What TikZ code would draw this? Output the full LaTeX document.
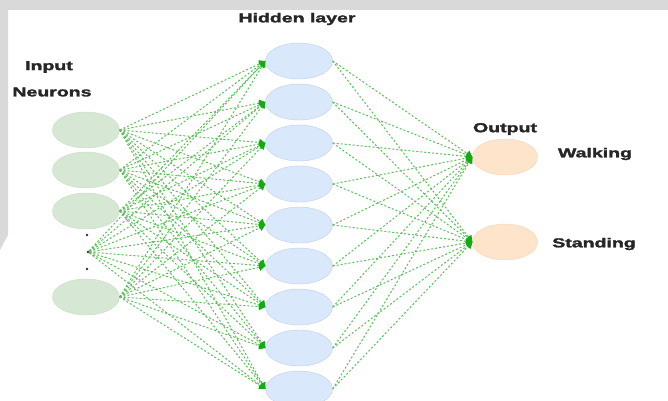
\documentclass[tikz,border=0pt]{standalone}
\usepackage{fontspec}
\setmainfont{Liberation Sans}[BoldFeatures={FakeBold=1.6}]
\usetikzlibrary{
  arrows.meta,
  shapes.geometric,
}

\definecolor{inFill}{RGB}{214,232,212}
\definecolor{inDraw}{RGB}{196,220,194}
\definecolor{hidFill}{RGB}{218,232,252}
\definecolor{hidDraw}{RGB}{190,206,232}
\definecolor{outFill}{RGB}{255,228,204}
\definecolor{outDraw}{RGB}{244,212,180}
\definecolor{lineGreen}{RGB}{90,190,90}
\definecolor{tipGreen}{RGB}{20,170,20}
\definecolor{bgGray}{RGB}{217,217,217}

\newcommand{\wtxt}[1]{\scalebox{1.5}[1]{#1}}

\begin{document}
\begin{tikzpicture}[
    x=1pt, y=-1pt,
    arr/.style={lineGreen, line width=1pt, dash pattern=on 2pt off 2pt,
        -{Triangle[length=6pt, width=7pt, color=tipGreen]}},
    lab/.style={font=\bfseries\fontsize{13}{15}\selectfont, black!85, inner sep=0pt},
    inNeu/.style={fill=inFill, draw=inDraw, ellipse, minimum width=67pt, minimum height=36pt},
    hidNeu/.style={fill=hidFill, draw=hidDraw, ellipse, minimum width=67pt, minimum height=36pt},
    outNeu/.style={fill=outFill, draw=outDraw, ellipse, minimum width=65pt, minimum height=36pt},
    dot/.style={circle, fill=black!80, inner sep=0pt, minimum size=2.8pt},
  ]
  \useasboundingbox (0,0) rectangle (668,400);
  \fill[white] (0,0) rectangle (668,400);
  \fill[bgGray] (0,0) rectangle (668,10);
  \fill[bgGray] (0,10) -- (8,10) -- (8,235) -- (0,250) -- cycle;

  % input layer
  \node[inNeu] (in0) at (86,130) {};
  \node[inNeu] (in1) at (86,170) {};
  \node[inNeu] (in2) at (86,211) {};
  \node[inNeu] (in3) at (86,297) {};
  \node[dot] (d0) at (87,235) {};
  \node[dot] (d1) at (88,252) {};
  \node[dot] (d2) at (87,269) {};

  % hidden layer
  \foreach \j in {0,...,8} {
      \node[hidNeu] (h\j) at (299,61+41*\j) {};
    }

  % output layer
  \node[outNeu] (out0) at (505,157) {};
  \node[outNeu] (out1) at (505,242) {};

  \foreach \j in {0,...,8} {
      \foreach \i in {0,...,3} {
          \draw[arr] (in\i.east) -- (h\j.west);
        }
      \draw[arr] (d1) -- (h\j.west);
      \foreach \k in {0,1} {
          \draw[arr] (h\j.east) -- (out\k.west);
        }
    }

  \node[lab] (hidLab) at (297,19) {\wtxt{Hidden layer}};
  \node[lab] (inLab) at (49,67) {\wtxt{Input}};
  \node[lab] (neuLab) at (52,92) {\wtxt{Neurons}};
  \node[lab] (outLab) at (505,129) {\wtxt{Output}};
  \node[lab] (walkLab) at (595,154) {\wtxt{Walking}};
  \node[lab] (standLab) at (594,244) {\wtxt{Standing}};
\end{tikzpicture}
\end{document}
